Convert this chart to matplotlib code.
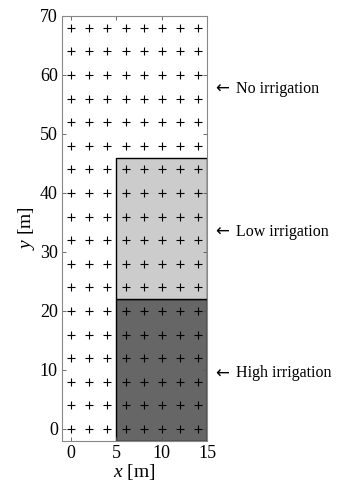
import matplotlib.pyplot as plt
import matplotlib.patches as mpatches
import numpy as np

plt.rcParams['font.family'] = ['Liberation Serif', 'DejaVu Serif']
plt.rcParams['mathtext.fontset'] = 'custom'
plt.rcParams['mathtext.it'] = 'Liberation Serif:italic'
plt.rcParams['mathtext.rm'] = 'Liberation Serif'

# sampling grid
grid_x = [0, 2, 4, 6, 8, 10, 12, 14]
grid_y = [0, 4, 8, 12, 16, 20, 24, 28, 32, 36, 40, 44, 48, 52, 56, 60, 64, 68]

# irrigation zones
zone_names = ['High irrigation', 'Low irrigation', 'No irrigation']
zone_x = [(5, 15), (5, 15), None]
zone_y = [(-2, 22), (22, 46), None]
zone_colors = ['#666666', '#cccccc', None]
label_y = [9.4, 33.4, 57.6]

fig = plt.figure(figsize=(3.39, 4.98), dpi=100)
ax = fig.add_axes([0.183, 0.115, 0.428, 0.853])

for xr, yr, c in zip(zone_x, zone_y, zone_colors):
    if xr is None:
        continue
    ax.add_patch(mpatches.Rectangle((xr[0], yr[0]), xr[1] - xr[0], yr[1] - yr[0],
                                    facecolor=c, edgecolor='black', linewidth=1, zorder=1))

gx, gy = np.meshgrid(grid_x, grid_y)
ax.plot(gx.ravel(), gy.ravel(), '+', color='black', markersize=6, markeredgewidth=0.8, zorder=3)

for name, yv in zip(zone_names, label_y):
    ax.text(15.9, yv, '\u2190', fontsize=12, va='center', ha='left',
            family=['DejaVu Sans'])
    ax.text(18.2, yv, name, fontsize=11.5, va='center', ha='left')

ax.set_xlim(-1, 15)
ax.set_ylim(-2, 70)
ax.set_xticks([0, 5, 10, 15])
ax.set_yticks(range(0, 71, 10))
ax.tick_params(direction='in', length=3, width=0.6, labelsize=13, top=True, right=True,
               color='#555555', pad=3)
for s in ax.spines.values():
    s.set_color('#888888')
    s.set_linewidth(0.8)
ax.set_xlabel('$x$ [m]', fontsize=14, labelpad=0)
ax.set_ylabel('$y$ [m]', fontsize=14, labelpad=2)

fig.savefig('out.png', dpi=100)
plt.close()
